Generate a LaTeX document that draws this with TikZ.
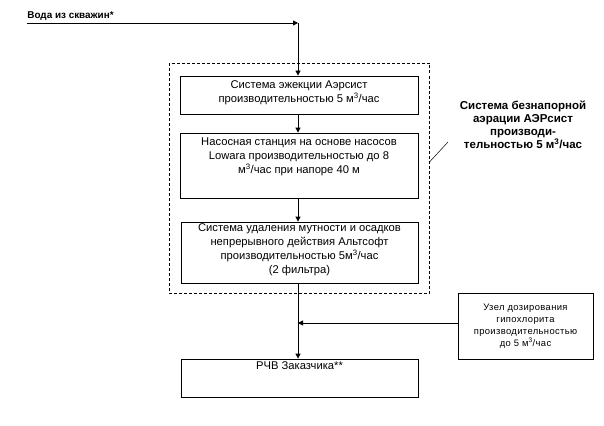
\documentclass[tikz,border=0pt]{standalone}
\usepackage{fontspec}
\setmainfont{Liberation Sans}
\usetikzlibrary{arrows.meta}
\begin{document}
\begin{tikzpicture}[x=1pt,y=-1pt,
  line width=0.8pt,
  arr/.style={-{Triangle[length=5pt,width=5pt]}},
  box/.style={draw, rectangle, inner sep=0pt},
  btxt/.style={align=center, inner sep=0pt, font=\fontsize{11.2}{14}\selectfont},
  stxt/.style={align=center, inner sep=0pt, font=\fontsize{9.4}{11.8}\selectfont\addfontfeature{LetterSpace=4}},
  side/.style={align=center, inner sep=0pt, font=\bfseries\fontsize{11.5}{13}\selectfont},
  frame/.style={draw, dash pattern=on 3pt off 2pt, line width=0.8pt}]
\useasboundingbox (0,0) rectangle (604,425);
% dashed frame
\draw[frame] (169,63) rectangle (429.5,293);
% boxes
\node[box, minimum width=238pt, minimum height=38pt] (b1) at (299,95) {};
\node[box, minimum width=238pt, minimum height=65pt] (b2) at (299,165.5) {};
\node[box, minimum width=237pt, minimum height=61pt] (b3) at (299.5,252.5) {};
\node[box, minimum width=237pt, minimum height=38pt] (b4) at (299.5,378) {};
\node[box, minimum width=135pt, minimum height=66pt] (b5) at (525.5,326) {};
% texts
\node[btxt, anchor=north] (t1) at ([yshift=-5]b1.north) {Система эжекции Аэрсист\\производительностью 5 м\textsuperscript{3}/час};
\node[btxt, anchor=north] (t2) at ([yshift=-5]b2.north) {Насосная станция на основе насосов\\Lowara производительностью до 8\\м\textsuperscript{3}/час при напоре 40 м};
\node[btxt, anchor=north] (t3) at ([yshift=-2]b3.north) {Система удаления мутности и осадков\\непрерывного действия Альтсофт\\производительностью 5м\textsuperscript{3}/час\\(2 фильтра)};
\node[btxt, anchor=north] (t4) at ([yshift=-3]b4.north) {РЧВ Заказчика**};
\node[stxt] (t5) at (b5.center) {Узел дозирования\\гипохлорита\\производительностью\\до 5 м\textsuperscript{3}/час};
\node[side] (side) at (523,125) {Система безнапорной\\аэрации АЭРсист\\производи-\\тельностью 5 м\textsuperscript{3}/час};
% source
\node[anchor=south west, inner sep=0pt, font=\bfseries\fontsize{9.9}{13}\selectfont] (src) at (27,21) {Вода из скважин*};
\coordinate (j) at (298,23);
\coordinate (srcl) at (27,23);
\coordinate (m) at (298,323);
\coordinate (c1) at (429.5,162);
\coordinate (c2) at (448,142);
% connectors
\draw[arr] (srcl) -- (j);
\draw[arr] (j) -- (j |- b1.north);
\draw[arr] (j |- b1.south) -- (j |- b2.north);
\draw[arr] (j |- b2.south) -- (j |- b3.north);
\draw[arr] (j |- b3.south) -- (j |- b4.north);
\draw[arr] (b5.west |- m) -- (m);
\draw[line width=0.5pt] (c1) -- (c2);
\end{tikzpicture}
\end{document}
